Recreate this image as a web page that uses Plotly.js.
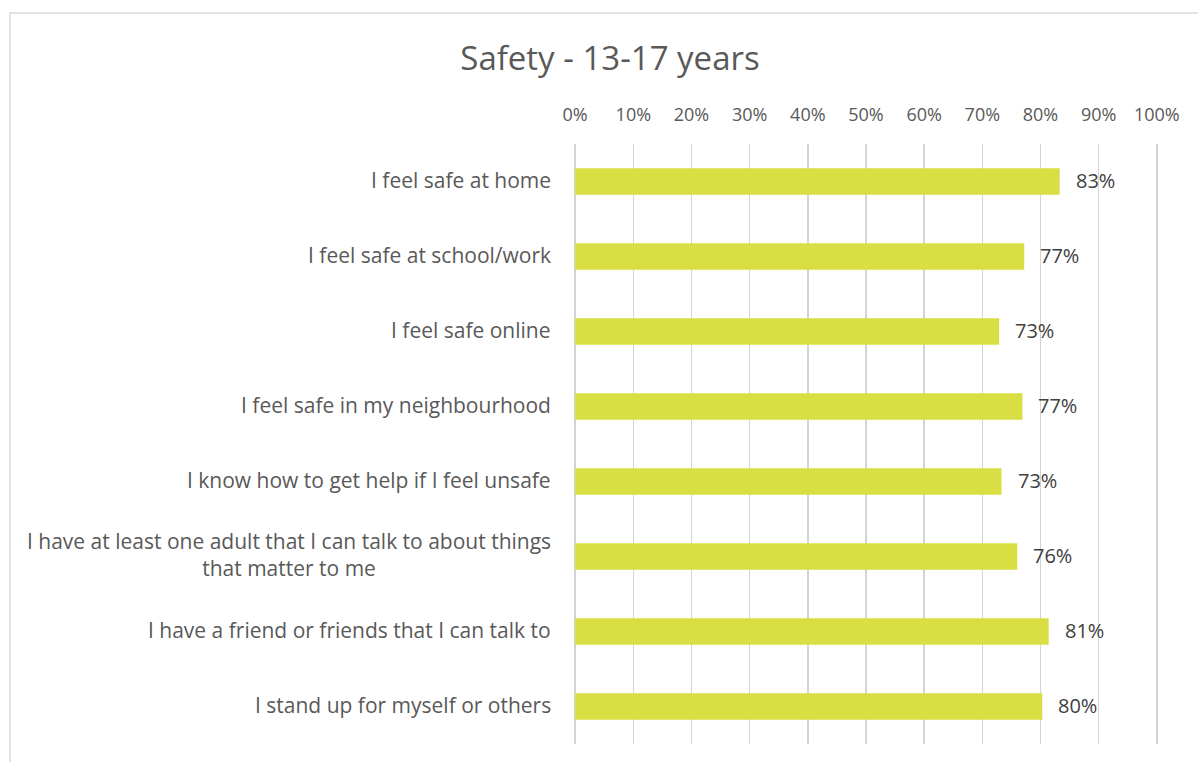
<!DOCTYPE html>
<html>
<head>
<meta charset="utf-8">
<script src="https://cdn.plot.ly/plotly-3.0.1.min.js"></script>
<style>html,body{margin:0;padding:0;background:#fff;}#chart{width:1198px;height:762px;}</style>
</head>
<body>
<div id="chart"></div>
<script>
const categories = [
  "I feel safe at home",
  "I feel safe at school/work",
  "I feel safe online",
  "I feel safe in my neighbourhood",
  "I know how to get help if I feel unsafe",
  "I have at least one adult that I can talk to about things<br>that matter to me",
  "I have a friend or friends that I can talk to",
  "I stand up for myself or others"
];
const values = [0.833, 0.772, 0.729, 0.769, 0.733, 0.760, 0.814, 0.803];
const tickVals = [0, 0.1, 0.2, 0.3, 0.4, 0.5, 0.6, 0.7, 0.8, 0.9, 1.0];
const tickText = ["0%","10%","20%","30%","40%","50%","60%","70%","80%","90%","100%"];

const FONT = "Open Sans, Noto Sans, sans-serif";

const trace = {
  type: "bar",
  orientation: "h",
  x: values,
  y: categories,
  marker: { color: "#D9DF42" },
  hoverinfo: "none"
};

const annotations = [];
values.forEach((v, i) => {
  annotations.push({
    x: v, y: categories[i], xref: "x", yref: "y",
    text: Math.round(v * 100) + "%",
    showarrow: false, xanchor: "left", xshift: 14, yshift: 1,
    font: { family: FONT, size: 20, color: "#404040" }
  });
  annotations.push({
    x: 0, y: categories[i], xref: "x", yref: "y",
    text: categories[i],
    showarrow: false, xanchor: "right", align: "center", xshift: -22, yshift: 2,
    font: { family: FONT, size: 21, color: "#595959" }
  });
});

const layout = {
  width: 1198, height: 762,
  margin: { l: 574, r: 40, t: 144, b: 18 },
  paper_bgcolor: "#fff", plot_bgcolor: "#fff",
  showlegend: false,
  bargap: 0.645,
  title: {
    text: "Safety - 13-17 years",
    x: 610 / 1198, xref: "container", xanchor: "center",
    y: 1 - 58 / 762, yref: "container", yanchor: "middle",
    font: { family: FONT, size: 33, color: "#595959" }
  },
  xaxis: {
    side: "top",
    range: [-0.002, 1.002],
    tickvals: tickVals, ticktext: tickText,
    showgrid: true, gridcolor: "#d4d4d4", gridwidth: 1.5,
    zeroline: false, showline: false,
    ticks: "outside", ticklen: 15, tickcolor: "rgba(0,0,0,0)",
    tickfont: { family: FONT, size: 18, color: "#595959" },
    fixedrange: true
  },
  yaxis: {
    type: "category",
    autorange: "reversed",
    showticklabels: false,
    showgrid: false, zeroline: false, showline: false,
    ticks: "",
    fixedrange: true
  },
  annotations: annotations,
  shapes: [{
    type: "rect", xref: "paper", yref: "paper",
    x0: (10 - 574) / 584, x1: 1.2,
    y0: -0.2, y1: 1 + (144 - 13) / 600,
    line: { color: "#d9d9d9", width: 1.5 },
    fillcolor: "rgba(0,0,0,0)", layer: "below"
  }]
};

Plotly.newPlot("chart", [trace], layout, { displayModeBar: false, staticPlot: true });
</script>
</body>
</html>
